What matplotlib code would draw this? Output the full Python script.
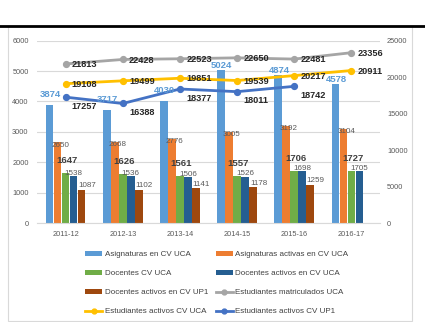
import numpy as np
import matplotlib
matplotlib.use("Agg")
import matplotlib.pyplot as plt
from matplotlib.lines import Line2D
from matplotlib.patches import Patch, Rectangle

plt.rcParams['font.family'] = ['Liberation Sans', 'DejaVu Sans']

# ---- data ----
years = ["2011-12", "2012-13", "2013-14", "2014-15", "2015-16", "2016-17"]
asignaturas = [3874, 3717, 4030, 5024, 4874, 4578]
asignaturas_activas = [2650, 2668, 2776, 3005, 3192, 3104]
docentes = [1647, 1626, 1561, 1557, 1706, 1727]
docentes_activos = [1538, 1536, 1506, 1526, 1698, 1705]
docentes_up1 = [1087, 1102, 1141, 1178, 1259, np.nan]
est_matriculados = [21813, 22428, 22523, 22650, 22481, 23356]
est_activos_uca = [19108, 19499, 19851, 19539, 20217, 20911]
est_activos_up1 = [17257, 16388, 18377, 18011, 18742]

bar_names = ["Asignaturas en CV UCA", "Asignaturas activas en CV UCA", "Docentes CV UCA",
             "Docentes activos en CV UCA", "Docentes activos en CV UP1"]
line_names = ["Estudiantes matriculados UCA", "Estudiantes activos CV UCA", "Estudiantes activos CV UP1"]

bar_colors = ["#5B9BD5", "#ED7D31", "#70AD47", "#255E91", "#9E480E"]
line_colors = ["#A5A5A5", "#FFC000", "#4472C4"]

W, H = 425, 322
fig = plt.figure(figsize=(W / 100, H / 100), dpi=100)
fig.patch.set_facecolor("white")

ax = fig.add_axes([37 / W, 1 - 223 / H, (380 - 37) / W, (223 - 40.7) / H])
ax2 = ax.twinx()

x = np.arange(len(years))
bw = 0.14
series = [asignaturas, asignaturas_activas, docentes, docentes_activos, docentes_up1]
for i, (vals, col) in enumerate(zip(series, bar_colors)):
    ax.bar(x + (i - 2) * bw, vals, width=bw * 0.96, color=col, zorder=2)

ax.set_xlim(-0.5, len(years) - 0.5)
ax.set_ylim(0, 6000)
ax.set_yticks(np.arange(0, 6001, 1000))
ax.set_xticks(x)
ax.set_xticklabels(years)
ax.grid(axis="y", color="#D9D9D9", linewidth=0.8, zorder=0)
ax.set_axisbelow(True)
for s in ["top", "right", "left"]:
    ax.spines[s].set_visible(False)
ax.spines["bottom"].set_color("#D9D9D9")
ax.spines["bottom"].set_linewidth(0.8)
ax.tick_params(axis="both", length=0, labelsize=5.3, colors="#595959", pad=6)

ax2.set_ylim(0, 25000)
ax2.set_yticks(np.arange(0, 25001, 5000))
for s in ["top", "right", "left", "bottom"]:
    ax2.spines[s].set_visible(False)
ax2.tick_params(axis="y", length=0, labelsize=5.3, colors="#595959", pad=5)

line_series = [est_matriculados, est_activos_uca, est_activos_up1]
for vals, col in zip(line_series, line_colors):
    xs = x[:len(vals)]
    ax2.plot(xs, vals, color=col, linewidth=2.0, marker="o", markersize=4.2, zorder=3)

# ---- data labels (bar labels use the left-axis scale but sit above the lines) ----
def bar_label(xv, v, off, size, bold, color):
    ax2.annotate(f"{int(v)}", (xv, v), xycoords=ax.transData, xytext=off, textcoords="offset points",
                 ha="center", va="center", fontsize=size,
                 fontweight="bold" if bold else "normal", color=color, zorder=5)

# vertical offsets (points) for the tall-bar labels, nudged to keep clear of the line labels
asig_label_dy = [7.5, 7.5, 7.5, 3.5, 3.5, 3.5]
for i, v in enumerate(asignaturas):
    bar_label(x[i] - 2 * bw, v, (0.5, asig_label_dy[i]), 6.8, True, "#5B9BD5")
for i, v in enumerate(asignaturas_activas):
    bar_label(x[i] - bw, v, (2, -2), 5.8, False, "#595959")
for i, v in enumerate(docentes):
    bar_label(x[i], v, (1, 9), 6.8, True, "#404040")
for i, v in enumerate(docentes_activos):
    bar_label(x[i] + bw, v, (0, 2), 5.8, False, "#595959")
for i, v in enumerate(docentes_up1):
    if not np.isnan(v):
        bar_label(x[i] + 2 * bw, v, (4, 3), 5.8, False, "#595959")

for vals in [est_matriculados, est_activos_uca]:
    for i, v in enumerate(vals):
        ax2.annotate(f"{v}", (x[i], v), xytext=(4.5, -0.5), textcoords="offset points",
                     ha="left", va="center", fontsize=6.6, fontweight="bold", color="#262626", zorder=6)
for i, v in enumerate(est_activos_up1):
    ax2.annotate(f"{v}", (x[i], v), xytext=(4.5, -6.5), textcoords="offset points",
                 ha="left", va="center", fontsize=6.6, fontweight="bold", color="#262626", zorder=6)

# ---- legend (row-major order across two columns) ----
bar_handles = [Patch(facecolor=c, edgecolor="none") for c in bar_colors]
line_handles = [Line2D([0], [0], color=c, linewidth=2.0, marker="o", markersize=3.5) for c in line_colors]
handles = bar_handles + line_handles
labels = bar_names + line_names
order = [0, 2, 4, 6, 1, 3, 5, 7]
leg = fig.legend([handles[k] for k in order], [labels[k] for k in order], ncol=2,
                 loc="upper left", bbox_to_anchor=(82 / W, 1 - 248 / H), frameon=False,
                 fontsize=5.8, handlelength=2.1, handleheight=0.55, handletextpad=0.3,
                 columnspacing=1.0, labelspacing=1.45, borderaxespad=0)
for t in leg.get_texts():
    t.set_color("#404040")

# ---- outer frame ----
fig.add_artist(Rectangle((8 / W, 1 / H), (412 - 8) / W, (322 - 26 - 1) / H, transform=fig.transFigure,
                         fill=False, edgecolor="#D9D9D9", linewidth=0.8))
fig.add_artist(Line2D([0, 1], [1 - 26 / H, 1 - 26 / H], transform=fig.transFigure,
                      color="black", linewidth=2.0))

fig.savefig("out.png", dpi=100, facecolor="white")
